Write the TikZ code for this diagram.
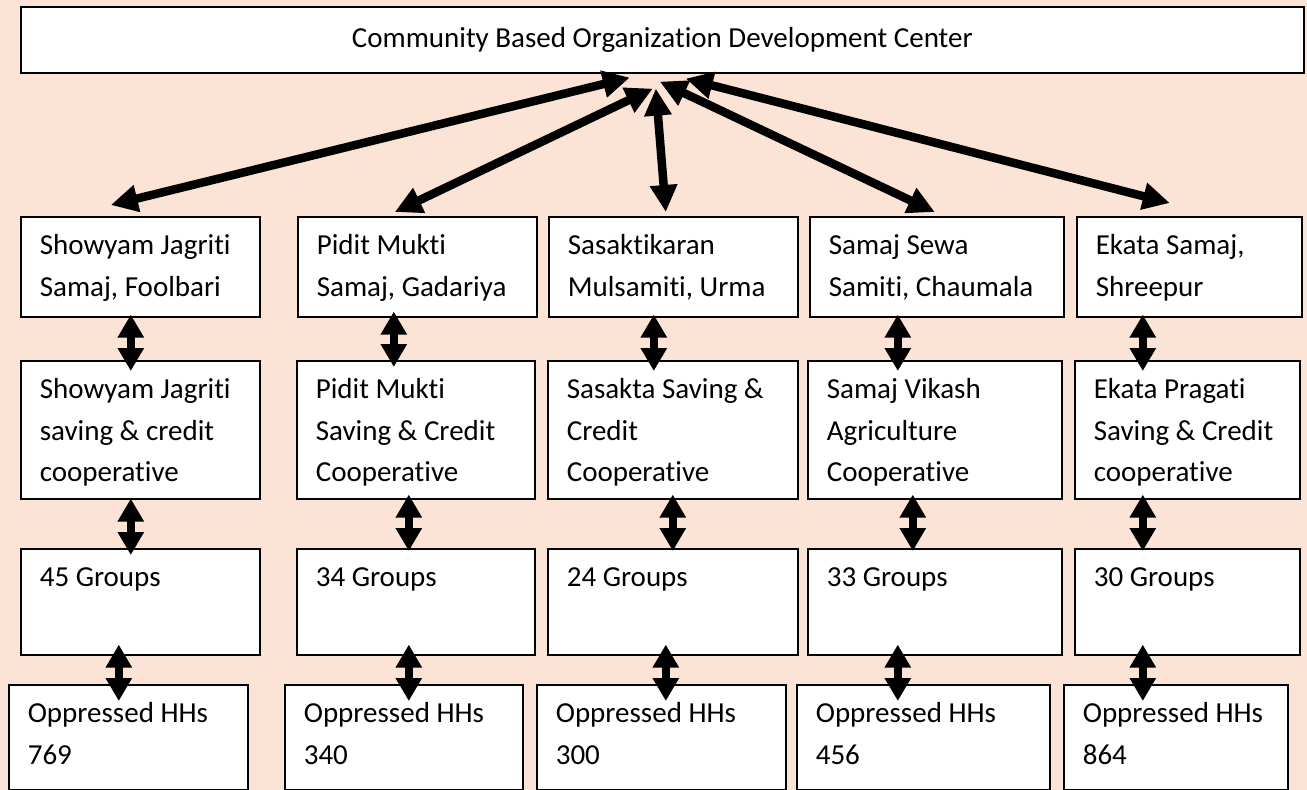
\documentclass[tikz,border=0pt]{standalone}
\usepackage{fontspec}
\setmainfont{Carlito}[RawFeature={-liga;-calt;-clig;-dlig}]
\usetikzlibrary{arrows.meta}
\definecolor{bgpeach}{HTML}{FBE4D5}
\newcommand\cbt[3]{\parbox[t][#2pt][t]{#1pt}{\fontsize{29pt}{41.5pt}\selectfont\leftskip=19pt\rightskip=0pt plus 1fil\parindent=0pt\rule{0pt}{38pt}#3}}
\tikzset{
  cbox/.style={draw=black, line width=1.6pt, fill=white, inner sep=0pt, anchor=north west},
  fan/.style={line width=8.5pt, {Triangle[length=27pt,width=26pt]}-{Triangle[length=27pt,width=26pt]}},
  link/.style={line width=8.5pt, {Triangle[length=23pt,width=25pt]}-{Triangle[length=23pt,width=25pt]}}
}
\begin{document}
\begin{tikzpicture}[x=1pt,y=-1pt]
\useasboundingbox (0,0) rectangle (1307,790);
\fill[bgpeach] (0,0) rectangle (1307,790);
% top box
\node[draw=black, line width=1.6pt, fill=white, inner sep=0pt, minimum width=1283pt, minimum height=66pt, anchor=north west, font=\fontsize{29pt}{35pt}\selectfont] (top) at (20,6) {Community Based Organization Development Center};
% row 1
\node[cbox] (b1) at (20,216) {\cbt{239}{100}{Showyam Jagriti\\Samaj, Foolbari}};
\node[cbox] (b2) at (297,216) {\cbt{239}{100}{Pidit Mukti\\Samaj, Gadariya}};
\node[cbox] (b3) at (548,216) {\cbt{249}{100}{Sasaktikaran\\Mulsamiti, Urma}};
\node[cbox] (b4) at (809,216) {\cbt{254}{100}{Samaj Sewa\\Samiti, Chaumala}};
\node[cbox] (b5) at (1076,216) {\cbt{225}{100}{Ekata Samaj,\\Shreepur}};
% row 2
\node[cbox] (c1) at (20,360) {\cbt{239}{138}{Showyam Jagriti\\saving \& credit\\cooperative}};
\node[cbox] (c2) at (296,360) {\cbt{238}{138}{Pidit Mukti\\Saving \& Credit\\Cooperative}};
\node[cbox] (c3) at (547,360) {\cbt{250}{138}{Sasakta Saving \&\\Credit\\Cooperative}};
\node[cbox] (c4) at (807,360) {\cbt{254}{138}{Samaj Vikash\\Agriculture\\Cooperative}};
\node[cbox] (c5) at (1074,360) {\cbt{225}{138}{Ekata Pragati\\Saving \& Credit\\cooperative}};
% row 3
\node[cbox] (d1) at (20,548) {\cbt{239}{106}{45 Groups}};
\node[cbox] (d2) at (296,548) {\cbt{238}{106}{34 Groups}};
\node[cbox] (d3) at (547,548) {\cbt{250}{106}{24 Groups}};
\node[cbox] (d4) at (807,548) {\cbt{254}{106}{33 Groups}};
\node[cbox] (d5) at (1074,548) {\cbt{225}{106}{30 Groups}};
% row 4
\node[cbox] (e1) at (8,684) {\cbt{239}{105}{Oppressed HHs\\769}};
\node[cbox] (e2) at (284,684) {\cbt{238}{105}{Oppressed HHs\\340}};
\node[cbox] (e3) at (536,684) {\cbt{249}{105}{Oppressed HHs\\300}};
\node[cbox] (e4) at (796,684) {\cbt{253}{105}{Oppressed HHs\\456}};
\node[cbox] (e5) at (1063,684) {\cbt{224}{105}{Oppressed HHs\\864}};
% fan arrows
\draw[fan] ([xshift=-29.5pt,yshift=11pt]b1.north) -- ([xshift=-32.5pt,yshift=-4pt]top.south);
\draw[fan] ([xshift=-22.5pt,yshift=4pt]b2.north) -- ([xshift=-9.5pt,yshift=-15pt]top.south);
\draw[fan] ([xshift=-7.5pt,yshift=4pt]b3.north) -- ([xshift=-6.5pt,yshift=-15pt]top.south);
\draw[fan] ([xshift=-2pt,yshift=4pt]b4.north) -- ([xshift=-2.5pt,yshift=-8pt]top.south);
\draw[fan] ([xshift=-19.5pt,yshift=13pt]b5.north) -- ([xshift=23.5pt,yshift=-5pt]top.south);
% row 1 -> row 2
\draw[link] ([xshift=-9.5pt,yshift=3pt]b1.south) -- ([xshift=-9.5pt,yshift=-11pt]c1.north);
\draw[link] ([xshift=-23.5pt,yshift=6pt]b2.south) -- ([xshift=-22pt,yshift=-7pt]c2.north);
\draw[link] ([xshift=-19.5pt,yshift=3pt]b3.south) -- ([xshift=-19pt,yshift=-11pt]c3.north);
\draw[link] ([xshift=-39pt,yshift=3pt]b4.south) -- ([xshift=-37pt,yshift=-11pt]c4.north);
\draw[link] ([xshift=-46.5pt,yshift=3pt]b5.south) -- ([xshift=-44.5pt,yshift=-11pt]c5.north);
% row 2 -> row 3
\draw[link] ([xshift=-9.5pt,yshift=1pt]c1.south) -- ([xshift=-9.5pt,yshift=-7pt]d1.north);
\draw[link] ([xshift=-7pt,yshift=5pt]c2.south) -- ([xshift=-7pt,yshift=-3pt]d2.north);
\draw[link] ([xshift=0pt,yshift=5pt]c3.south) -- ([xshift=0pt,yshift=-3pt]d3.north);
\draw[link] ([xshift=-22pt,yshift=5pt]c4.south) -- ([xshift=-22pt,yshift=-3pt]d4.north);
\draw[link] ([xshift=-44.5pt,yshift=5pt]c5.south) -- ([xshift=-44.5pt,yshift=-3pt]d5.north);
% row 3 -> row 4
\draw[link] ([xshift=-21.5pt,yshift=11pt]d1.south) -- ([xshift=-9.5pt,yshift=-17pt]e1.north);
\draw[link] ([xshift=-7pt,yshift=11pt]d2.south) -- ([xshift=5pt,yshift=-17pt]e2.north);
\draw[link] ([xshift=-7pt,yshift=11pt]d3.south) -- ([xshift=4.5pt,yshift=-17pt]e3.north);
\draw[link] ([xshift=-37pt,yshift=11pt]d4.south) -- ([xshift=-25.5pt,yshift=-17pt]e4.north);
\draw[link] ([xshift=-44.5pt,yshift=11pt]d5.south) -- ([xshift=-33pt,yshift=-17pt]e5.north);
\end{tikzpicture}
\end{document}
